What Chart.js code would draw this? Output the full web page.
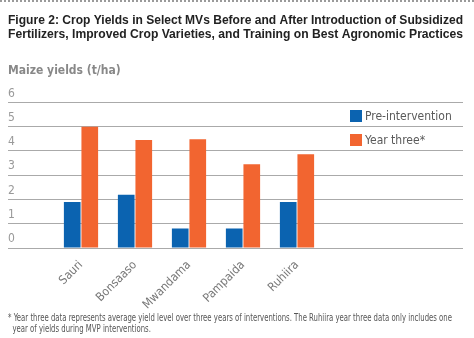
<!DOCTYPE html>
<html>
<head>
<meta charset="utf-8">
<script src="https://cdn.jsdelivr.net/npm/chart.js@4/dist/chart.umd.min.js"></script>
<style>
  html, body { margin: 0; padding: 0; background: #fff; }
  #wrap { position: relative; width: 474px; height: 338px; overflow: hidden; }
  #dots { position: absolute; left: 0; top: 0; width: 474px; border-top: 2px dotted #9a9a9a; }
  #legend { position: absolute; left: 350px; top: 110px; font: 12px "DejaVu Sans Condensed", Arial, sans-serif; color: #5a5a5a; }
  #legend div { height: 24px; line-height: 12px; }
  #legend span.box { display: inline-block; width: 12px; height: 12px; vertical-align: top; margin-right: 3px; }
  #note { position: absolute; left: 8px; top: 312px; font: 10.5px "DejaVu Sans Condensed", Arial, sans-serif; color: #555; line-height: 11px; white-space: nowrap; transform-origin: 0 0; }
</style>
</head>
<body>
<div id="wrap">
  <canvas id="crop_chart" width="474" height="338"></canvas>
  <div id="dots"></div>
  <div id="legend"></div>
  <div id="note"><span id="note1">* Year three data represents average yield level over three years of interventions. The Ruhiira year three data only includes one</span><br>&nbsp;&nbsp;year of yields during MVP interventions.</div>
</div>
<script>
var sites = ["Sauri", "Bonsaaso", "Mwandama", "Pampaida", "Ruhiira"];
var preIntervention = [1.9, 2.2, 0.8, 0.8, 1.9];
var yearThree = [5.0, 4.45, 4.48, 3.45, 3.86];
var yTicks = [0, 1, 2, 3, 4, 5, 6];
var seriesNames = ["Pre-intervention", "Year three*"];
var seriesColors = ["#0b63b0", "#f26530"];

var narrow = "'DejaVu Sans Condensed', Arial, sans-serif";

var legendBox = document.getElementById("legend");
seriesNames.forEach(function(name, i) {
  var row = document.createElement("div");
  var sw = document.createElement("span");
  sw.className = "box";
  sw.style.background = seriesColors[i];
  row.appendChild(sw);
  row.appendChild(document.createTextNode(name));
  legendBox.appendChild(row);
});

// squeeze the footnote so its first line runs to the same width as the original
var note1 = document.getElementById("note1");
var w = note1.getBoundingClientRect().width;
document.getElementById("note").style.transform = "scaleX(" + (444 / w) + ")";

var chart = new Chart("crop_chart", {
  type: 'bar',
  data: {
    labels: sites,
    datasets: [{
      label: seriesNames[0],
      data: preIntervention,
      backgroundColor: seriesColors[0]
    }, {
      label: seriesNames[1],
      data: yearThree,
      backgroundColor: seriesColors[1]
    }]
  },
  options: {
    responsive: false,
    animation: false,
    layout: { padding: { left: 8, right: 11, top: 0, bottom: 0 } },
    datasets: {
      bar: { categoryPercentage: 0.65, barPercentage: 0.95 }
    },
    plugins: {
      legend: { display: false },
      tooltip: { enabled: false },
      title: {
        display: true,
        align: 'start',
        text: ["Figure 2: Crop Yields in Select MVs Before and After Introduction of Subsidized",
               "Fertilizers, Improved Crop Varieties, and Training on Best Agronomic Practices"],
        color: '#222',
        font: { family: "Arial, 'Liberation Sans', sans-serif", size: 12.85, weight: 'bold', lineHeight: 1.13 },
        padding: { top: 13, bottom: 11 }
      },
      subtitle: {
        display: true,
        align: 'start',
        text: "Maize yields (t/ha)",
        color: '#888',
        font: { family: narrow, size: 12, weight: 'bold', lineHeight: 1.2 },
        padding: { top: 11, bottom: 24 }
      }
    },
    scales: {
      x: {
        grid: { display: false },
        border: { display: false },
        ticks: {
          color: '#777',
          font: { family: narrow, size: 12 },
          maxRotation: 45,
          minRotation: 45,
          padding: 2
        },
        afterFit: function(scale) { scale.height = 90; }
      },
      y: {
        min: 0,
        max: 6,
        afterBuildTicks: function(scale) {
          scale.ticks = yTicks.map(function(v) { return { value: v }; });
        },
        grid: { color: '#aaa', lineWidth: 1, tickLength: 46, tickColor: '#aaa' },
        border: { display: false },
        ticks: {
          color: '#999',
          font: { family: narrow, size: 12 },
          crossAlign: 'far',
          labelOffset: -9,
          padding: 0
        },
        afterFit: function(scale) { scale.width = 46; }
      },
      y2: {
        position: 'right',
        min: 0,
        max: 6,
        afterBuildTicks: function(scale) {
          scale.ticks = yTicks.map(function(v) { return { value: v }; });
        },
        grid: { drawOnChartArea: false, color: '#aaa', tickLength: 139, tickColor: '#aaa' },
        border: { display: false },
        ticks: { display: false },
        afterFit: function(scale) { scale.width = 139; }
      }
    }
  }
});
</script>
</body>
</html>
